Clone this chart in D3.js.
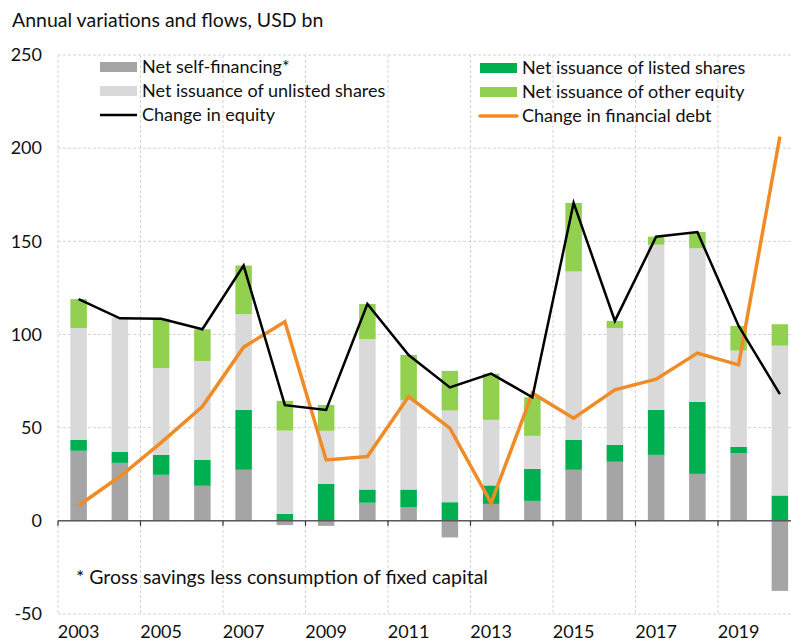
<!DOCTYPE html>
<html>
<head>
<meta charset="utf-8">
<script src="https://cdn.jsdelivr.net/npm/d3@7"></script>
<style>
  body { margin: 0; background: #fff; }
  text { font-family: Lato, "Noto Sans", sans-serif; fill: #111; }
</style>
</head>
<body>
<div id="chart"></div>
<script>
// data, USD bn
var years = ["2003","2004","2005","2006","2007","2008","2009","2010","2011","2012",
             "2013","2014","2015","2016","2017","2018","2019","2020"];
var selfFinancing = [37.6, 31.1, 24.7, 18.8, 27.4, -2.3, -2.7, 9.7, 7.2, -8.9,
                     9.1, 10.7, 27.4, 31.7, 35.4, 25.2, 36.3, -37.6];
var listedShares  = [5.9, 5.9, 10.7, 13.9, 32.1, 3.8, 19.8, 7.1, 9.6, 10.0,
                     9.9, 17.2, 16.1, 9.1, 24.1, 38.6, 3.4, 13.6];
var unlistedShares = [60.0, 71.7, 46.6, 53.1, 51.4, 44.6, 28.5, 80.7, 48.1, 49.2,
                      35.2, 17.7, 90.3, 62.7, 88.7, 82.5, 51.7, 80.4];
var otherEquity   = [15.5, 0.3, 26.4, 17.0, 26.1, 16.0, 13.9, 18.9, 24.1, 21.3,
                     24.8, 20.7, 36.8, 3.8, 4.3, 8.7, 13.2, 11.5];
var changeEquity  = [119, 108.7, 108.4, 102.8, 137, 62.1, 59.5, 116.4, 89, 71.6,
                     79, 66.3, 170.6, 107.3, 152.5, 155, 104.6, 68];
var changeDebt    = [8.2, 23.8, 42, 61.3, 93.2, 106.9, 32.7, 34.5, 66.7, 49.7,
                     9.5, 68.5, 55.1, 70.3, 76, 90, 83.7, 206.2];
var yTicks = [-50, 0, 50, 100, 150, 200, 250];
var xLabelYears = ["2003","2005","2007","2009","2011","2013","2015","2017","2019"];

var seriesNames = ["Net self-financing*", "Net issuance of listed shares",
                   "Net issuance of unlisted shares", "Net issuance of other equity",
                   "Change in equity", "Change in financial debt"];
var colors = { self: "#a5a5a5", listed: "#00b050", unlisted: "#d9d9d9",
               other: "#92d050", equity: "#000000", debt: "#f08c28" };

(function() {
  var W = 791, H = 643;
  var m = { left: 58, right: 800.5, top: 55, bottom: 614 };

  var svg = d3.select("#chart").append("svg")
    .attr("width", W).attr("height", H);

  var x = d3.scaleBand().domain(years).range([m.left, m.right])
    .paddingInner(0.6).paddingOuter(0.3);
  var step = x.step();
  var y = d3.scaleLinear().domain([-50, 250]).range([m.bottom, m.top]);
  // boundary just left of a year's slot
  var edge = function(d) { return x(d) - step * 0.3; };

  // horizontal grid
  svg.append("g").selectAll("line").data(yTicks).enter().append("line")
    .attr("x1", m.left).attr("x2", m.right)
    .attr("y1", function(d) { return y(d); }).attr("y2", function(d) { return y(d); })
    .attr("stroke", "#d4d4d4").attr("stroke-dasharray", "3,2");

  // vertical grid every second year
  svg.append("g").selectAll("line").data(xLabelYears).enter().append("line")
    .attr("x1", edge).attr("x2", edge)
    .attr("y1", m.top).attr("y2", m.bottom)
    .attr("stroke", "#d4d4d4").attr("stroke-dasharray", "3,2");

  // stacked bars
  var rows = years.map(function(yr, i) {
    return { year: yr, self: selfFinancing[i], listed: listedShares[i],
             unlisted: unlistedShares[i], other: otherEquity[i] };
  });
  var keys = ["self", "listed", "unlisted", "other"];
  var layers = d3.stack().keys(keys).offset(d3.stackOffsetDiverging)(rows);

  svg.append("g").selectAll("g").data(layers).enter().append("g")
    .attr("fill", function(d) { return colors[d.key]; })
    .selectAll("rect").data(function(d) { return d; }).enter().append("rect")
    .attr("x", function(d) { return x(d.data.year); })
    .attr("width", x.bandwidth())
    .attr("y", function(d) { return Math.min(y(d[0]), y(d[1])); })
    .attr("height", function(d) { return Math.abs(y(d[0]) - y(d[1])); });

  // zero axis with ticks
  var axisG = svg.append("g").attr("transform", "translate(0," + y(0) + ")");
  axisG.append("line").attr("x1", m.left).attr("x2", m.right)
    .attr("stroke", "#595959").attr("stroke-width", 1.5);
  axisG.selectAll("line.tk").data(xLabelYears).enter().append("line")
    .attr("class", "tk")
    .attr("x1", edge).attr("x2", edge)
    .attr("y1", 0).attr("y2", 5)
    .attr("stroke", "#333").attr("stroke-width", 1.2);

  // lines
  var line = d3.line()
    .x(function(d, i) { return x(years[i]) + x.bandwidth() / 2; })
    .y(function(d) { return y(d); });

  svg.append("path").datum(changeDebt)
    .attr("d", line).attr("fill", "none")
    .attr("stroke", colors.debt).attr("stroke-width", 3.5);
  svg.append("path").datum(changeEquity)
    .attr("d", line).attr("fill", "none")
    .attr("stroke", colors.equity).attr("stroke-width", 2.5);

  // y tick labels
  svg.append("g").selectAll("text").data(yTicks).enter().append("text")
    .attr("x", 42).attr("y", function(d) { return y(d); })
    .attr("dy", "0.35em").attr("text-anchor", "end")
    .style("font-size", "18px")
    .text(function(d) { return d; });

  // x labels
  svg.append("g").selectAll("text").data(xLabelYears).enter().append("text")
    .attr("x", function(d) { return x(d) + x.bandwidth() / 2; })
    .attr("y", 638).attr("text-anchor", "middle")
    .style("font-size", "18px")
    .text(function(d) { return d; });

  // title
  svg.append("text").attr("x", 12).attr("y", 27)
    .style("font-size", "19.5px")
    .text("Annual variations and flows, USD bn");

  // footnote
  svg.append("text").attr("x", 76).attr("y", 584)
    .style("font-size", "19.5px")
    .text("* Gross savings less consumption of fixed capital");

  // legend
  var legend = [
    { name: seriesNames[0], key: "self", type: "rect", x: 100, y: 67 },
    { name: seriesNames[2], key: "unlisted", type: "rect", x: 100, y: 91 },
    { name: seriesNames[4], key: "equity", type: "line", x: 100, y: 115 },
    { name: seriesNames[1], key: "listed", type: "rect", x: 480, y: 68 },
    { name: seriesNames[3], key: "other", type: "rect", x: 480, y: 92 },
    { name: seriesNames[5], key: "debt", type: "line", x: 480, y: 116 }
  ];
  var lg = svg.append("g").selectAll("g").data(legend).enter().append("g")
    .attr("transform", function(d) { return "translate(" + d.x + "," + d.y + ")"; });
  lg.filter(function(d) { return d.type === "rect"; }).append("rect")
    .attr("x", 0).attr("y", -5).attr("width", 37).attr("height", 10)
    .attr("fill", function(d) { return colors[d.key]; });
  lg.filter(function(d) { return d.type === "line"; }).append("line")
    .attr("x1", 0).attr("x2", 37).attr("y1", 0).attr("y2", 0)
    .attr("stroke", function(d) { return colors[d.key]; })
    .attr("stroke-width", function(d) { return d.key === "debt" ? 3.5 : 2.5; })
    .attr("stroke-linecap", function(d) { return d.key === "debt" ? "round" : "butt"; });
  lg.append("text").attr("x", 42).attr("y", 0).attr("dy", "0.35em")
    .style("font-size", "18px")
    .text(function(d) { return d.name; });
})();
</script>
</body>
</html>
